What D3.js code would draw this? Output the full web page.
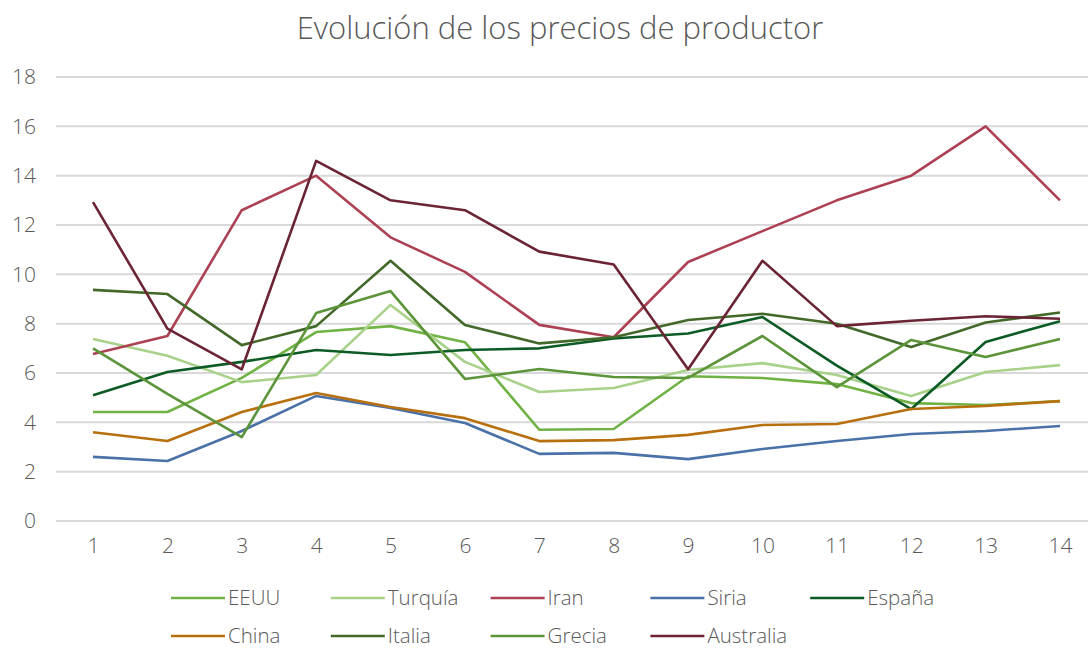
<!DOCTYPE html>
<html>
<head>
<meta charset="utf-8">
<script src="https://cdn.jsdelivr.net/npm/d3@7"></script>
<style>
  body { margin: 0; background: #fff; }
  text { font-family: "Open Sans", "Noto Sans", sans-serif; fill: #595959; }
</style>
</head>
<body>
<script>
var periods = [1, 2, 3, 4, 5, 6, 7, 8, 9, 10, 11, 12, 13, 14];
var yTicks = [0, 2, 4, 6, 8, 10, 12, 14, 16, 18];

var eeuu      = [4.42, 4.42, 5.8, 7.66, 7.9, 7.25, 3.7, 3.73, 5.87, 5.8, 5.55, 4.78, 4.7, 4.86];
var turquia   = [7.38, 6.7, 5.63, 5.92, 8.76, 6.45, 5.23, 5.39, 6.12, 6.4, 5.92, 5.07, 6.04, 6.32];
var iran      = [6.77, 7.5, 12.6, 14.0, 11.5, 10.1, 7.95, 7.45, 10.5, 11.75, 13.0, 14.0, 16.0, 13.0];
var siria     = [2.6, 2.43, 3.65, 5.07, 4.58, 3.97, 2.72, 2.76, 2.51, 2.92, 3.24, 3.53, 3.65, 3.85];
var espana    = [5.1, 6.04, 6.45, 6.93, 6.73, 6.93, 7.0, 7.4, 7.6, 8.27, 6.3, 4.54, 7.26, 8.1];
var china     = [3.6, 3.24, 4.42, 5.19, 4.62, 4.17, 3.24, 3.28, 3.49, 3.89, 3.93, 4.54, 4.66, 4.86];
var italia    = [9.37, 9.2, 7.13, 7.9, 10.55, 7.95, 7.2, 7.45, 8.15, 8.4, 8.0, 7.05, 8.05, 8.45];
var grecia    = [7.0, 5.15, 3.4, 8.43, 9.32, 5.76, 6.16, 5.84, 5.8, 7.5, 5.43, 7.34, 6.65, 7.38];
var australia = [12.93, 7.8, 6.15, 14.6, 13.0, 12.6, 10.92, 10.4, 6.15, 10.55, 7.9, 8.12, 8.3, 8.2];

var seriesNames  = ["EEUU", "Turquía", "Iran", "Siria", "España", "China", "Italia", "Grecia", "Australia"];
var seriesValues = [eeuu, turquia, iran, siria, espana, china, italia, grecia, australia];
var seriesColors = ["#70b244", "#a8d18a", "#ad4154", "#4a71a8", "#0d5b24", "#b8700f", "#42692a", "#5c943a", "#6a2434"];

var width = 1088,
    height = 648;

var svg = d3.select("body").append("svg")
    .attr("width", width)
    .attr("height", height);

var x = d3.scalePoint()
    .domain(periods)
    .range([93, 1060]);

var y = d3.scaleLinear()
    .domain([0, 18])
    .range([521, 77]);

// title
svg.append("text")
    .attr("x", 560)
    .attr("y", 39)
    .attr("text-anchor", "middle")
    .style("font-size", "31px")
    .style("font-weight", 300)
    .text("Evolución de los precios de productor");

// grid
svg.append("g").selectAll(".grid")
    .data(yTicks)
  .enter().append("line")
    .attr("class", "grid")
    .attr("x1", 56)
    .attr("x2", 1097)
    .attr("y1", function(d) { return y(d); })
    .attr("y2", function(d) { return y(d); })
    .attr("stroke", "#d9d9d9")
    .attr("stroke-width", 2);

// y axis
var yAxis = svg.append("g")
    .attr("transform", "translate(56,0)")
    .call(d3.axisLeft(y).tickValues(yTicks).tickSize(0).tickPadding(20));
yAxis.select(".domain").remove();
yAxis.selectAll("text")
    .style("font-size", "21px")
    .style("font-weight", 300)
    .style("font-family", "\"Open Sans\", sans-serif")
    .attr("fill", "#595959");

// x axis
var xAxis = svg.append("g")
    .attr("transform", "translate(0,521)")
    .call(d3.axisBottom(x).tickSize(0).tickPadding(17));
xAxis.select(".domain").remove();
xAxis.selectAll("text")
    .style("font-size", "21px")
    .style("font-weight", 300)
    .style("font-family", "\"Open Sans\", sans-serif")
    .attr("fill", "#595959");

// lines
var line = d3.line()
    .x(function(d, i) { return x(periods[i]); })
    .y(function(d) { return y(d); });

svg.append("g").selectAll(".series")
    .data(seriesValues)
  .enter().append("path")
    .attr("class", "series")
    .attr("fill", "none")
    .attr("stroke", function(d, i) { return seriesColors[i]; })
    .attr("stroke-width", 2.6)
    .attr("stroke-linejoin", "round")
    .attr("d", line);

// legend
var legend = svg.append("g").selectAll(".legend")
    .data(seriesNames)
  .enter().append("g")
    .attr("class", "legend")
    .attr("transform", function(d, i) {
      return "translate(" + (171 + (i % 5) * 159.8) + "," + (i < 5 ? 598 : 636) + ")";
    });

legend.append("line")
    .attr("x1", 0)
    .attr("x2", 54)
    .attr("stroke", function(d, i) { return seriesColors[i]; })
    .attr("stroke-width", 2.6);

legend.append("text")
    .attr("x", 57)
    .attr("y", 7)
    .style("font-size", "20.5px")
    .style("font-weight", 300)
    .text(function(d) { return d; });
</script>
</body>
</html>
